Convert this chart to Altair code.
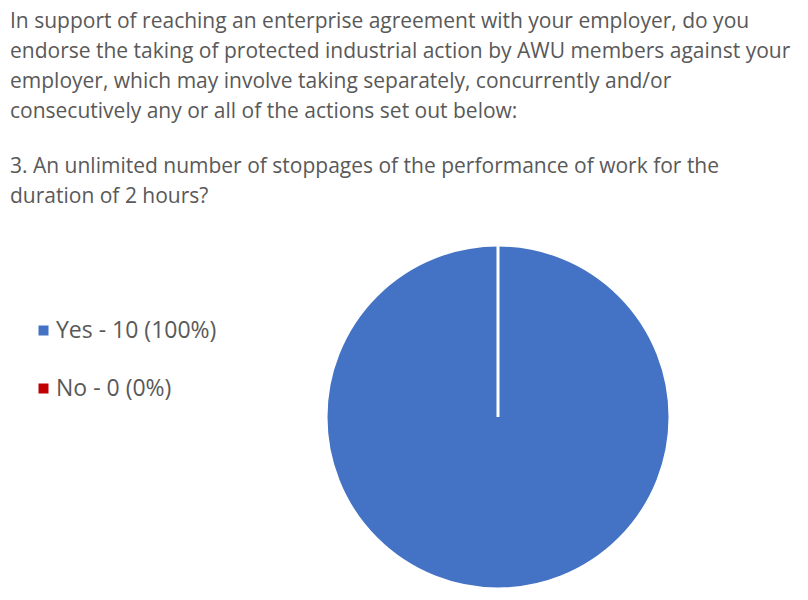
import altair as alt
import pandas as pd

title_lines = [
    "In support of reaching an enterprise agreement with your employer, do you",
    "endorse the taking of protected industrial action by AWU members against your",
    "employer, which may involve taking separately, concurrently and/or",
    "consecutively any or all of the actions set out below:",
]
question_lines = [
    "3. An unlimited number of stoppages of the performance of work for the",
    "duration of 2 hours?",
]
answers = ["Yes", "No"]
counts = [10, 0]
percents = [100, 0]
labels = [f"{a} - {c} ({p}%)" for a, c, p in zip(answers, counts, percents)]
colors = ["#4472C4", "#C00000"]

df = pd.DataFrame({"label": labels, "count": counts, "order": [0, 1]})

chart = (
    alt.Chart(df)
    .mark_arc(radius=172, stroke="white", strokeWidth=3)
    .encode(
        theta=alt.Theta("count:Q", stack=True),
        color=alt.Color(
            "label:N",
            scale=alt.Scale(domain=labels, range=colors),
            legend=alt.Legend(
                title=None,
                orient="none",
                legendX=22,
                legendY=69,
                symbolType="square",
                symbolSize=100,
                symbolStrokeWidth=0,
                labelFont="Open Sans",
                labelFontSize=23,
                labelColor="#595959",
                labelOffset=1,
                labelLimit=400,
                rowPadding=34,
                padding=0,
            ),
        ),
        order=alt.Order("order:Q"),
        x=alt.value(488),
        y=alt.value(167),
    )
    .properties(
        width=790,
        height=342,
        padding={"left": 2, "top": 242, "right": 0, "bottom": 0},
        autosize=alt.AutoSizeParams(type="none"),
        title=alt.TitleParams(
            text=title_lines,
            subtitle=question_lines,
            anchor="start",
            frame="group",
            font="Open Sans",
            fontSize=21,
            fontWeight="normal",
            color="#595959",
            lineHeight=30,
            subtitleFont="Open Sans",
            subtitleFontSize=21,
            subtitleFontWeight="normal",
            subtitleColor="#595959",
            subtitleLineHeight=30,
            subtitlePadding=34,
            offset=32,
        ),
    )
    .configure_view(stroke=None)
)

chart.save("out.html", embed_options={"renderer": "svg", "actions": False})
